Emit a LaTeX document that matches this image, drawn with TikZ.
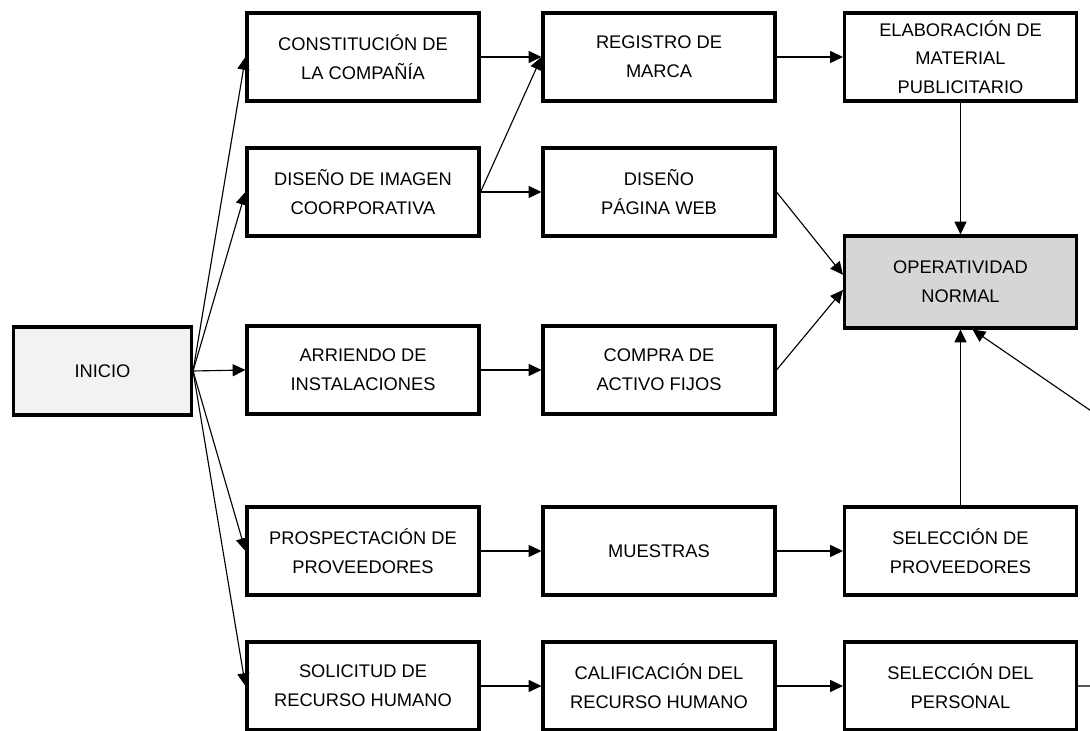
\documentclass[tikz,border=0pt]{standalone}
\usepackage{fontspec}
\setmainfont{Liberation Sans}
\usetikzlibrary{arrows.meta}

\definecolor{fondoinicio}{HTML}{F2F2F2}
\definecolor{fondofin}{HTML}{D6D6D6}

\begin{document}
\begin{tikzpicture}[
	caja/.style={draw,line width=2.2pt,fill=white,align=center,minimum width=5.8cm,minimum height=2.2cm,inner sep=0,font=\fontsize{13}{20.5}\selectfont},
	flecha/.style={line width=0.8pt,-{Triangle[length=0.32cm,width=0.3cm]}}]
	\clip (0,0) rectangle (27.25,18.275);
	\node[caja,fill=fondoinicio,minimum width=4.45cm] (inicio) at (2.5625,9) {INICIO};
	\node[caja] (constitucion) at (9.075,16.85) {CONSTITUCIÓN DE\\LA COMPAÑÍA};
	\node[caja] (imagen) at (9.075,13.475) {DISEÑO DE IMAGEN\\COORPORATIVA};
	\node[caja] (arriendo) at (9.075,9.025) {ARRIENDO DE\\INSTALACIONES};
	\node[caja] (prospectacion) at (9.075,4.5) {PROSPECTACIÓN DE\\PROVEEDORES};
	\node[caja] (solicitud) at (9.075,1.125) {SOLICITUD DE\\RECURSO HUMANO};
	\node[caja] (registro) at (16.475,16.85) {REGISTRO DE\\MARCA};
	\node[caja] (web) at (16.475,13.475) {DISEÑO\\PÁGINA WEB};
	\node[caja] (compra) at (16.475,9.025) {COMPRA DE\\ACTIVO FIJOS};
	\node[caja] (muestras) at (16.475,4.5) {MUESTRAS};
	\node[caja] (calificacion) at (16.475,1.125) {CALIFICACIÓN DEL\\RECURSO HUMANO};
	\node[caja] (material) at (24.0125,16.85) {ELABORACIÓN DE\\MATERIAL\\PUBLICITARIO};
	\node[caja,fill=fondofin,minimum height=2.3cm] (operatividad) at (24.0125,11.225) {OPERATIVIDAD\\NORMAL};
	\node[caja] (proveedores) at (24.0125,4.5) {SELECCIÓN DE\\PROVEEDORES};
	\node[caja] (personal) at (24.0125,1.125) {SELECCIÓN DEL\\PERSONAL};
	\coordinate (retorno) at (28.3,7.3);
	% desde el inicio
	\foreach \n in {constitucion,imagen,arriendo,prospectacion,solicitud}
		\draw[flecha] (inicio.east) -- (\n.west);
	\draw[flecha] (constitucion) -- (registro);
	\draw[flecha] (registro) -- (material);
	\draw[flecha] (imagen.east) -- (registro.west);
	\draw[flecha] (imagen) -- (web);
	\draw[flecha] (arriendo) -- (compra);
	\draw[flecha] (prospectacion) -- (muestras);
	\draw[flecha] (muestras) -- (proveedores);
	\draw[flecha] (solicitud) -- (calificacion);
	\draw[flecha] (calificacion) -- (personal);
	% hacia operatividad
	\draw[flecha] (material) -- (operatividad);
	\draw[flecha] (web.east) -- ([yshift=0.18cm]operatividad.west);
	\draw[flecha] (compra.east) -- ([yshift=-0.2cm]operatividad.west);
	\draw[flecha] (proveedores) -- (operatividad);
	\draw[flecha] (personal.east) -| (retorno) -- ([xshift=0.3cm]operatividad.south);
\end{tikzpicture}
\end{document}
